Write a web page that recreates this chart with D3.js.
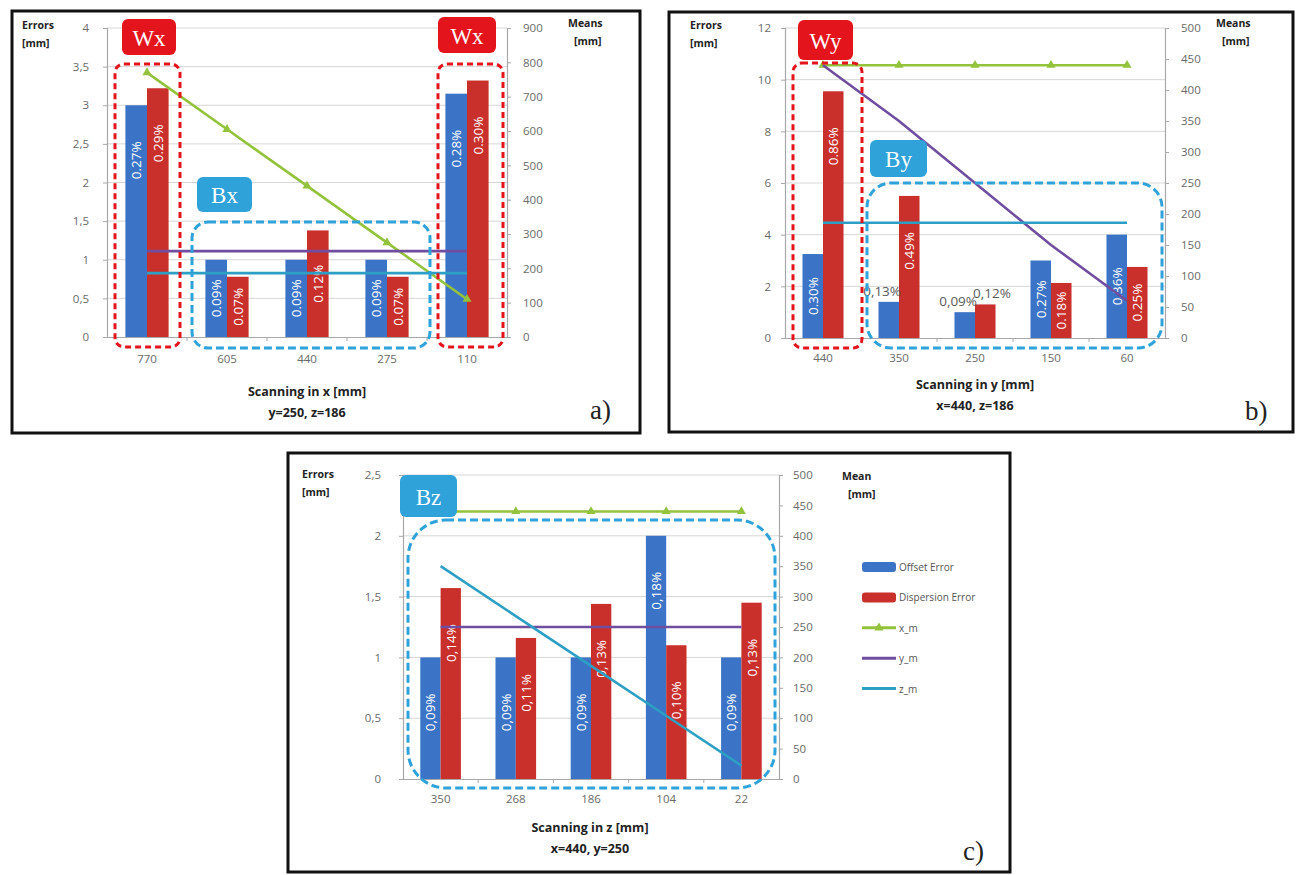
<!DOCTYPE html>
<html><head><meta charset="utf-8">
<script src="https://cdn.jsdelivr.net/npm/d3@7"></script>
<style>
body{margin:0;background:#fff}
svg text{font-family:"Open Sans","Liberation Sans",sans-serif}
</style>
</head><body>
<svg id="chart" width="1299" height="875"></svg>
<script>
// ---------------- DATA ----------------
const seriesNames = ["Offset Error", "Dispersion Error", "x_m", "y_m", "z_m"];

// panel a) scanning in x
const catsA = ["770", "605", "440", "275", "110"];
const offsetA = [3.0, 1.0, 1.0, 1.0, 3.15];
const dispA = [3.22, 0.78, 1.38, 0.78, 3.32];
const offsetLblA = ["0.27%", "0.09%", "0.09%", "0.09%", "0.28%"];
const dispLblA = ["0.29%", "0.07%", "0.12%", "0.07%", "0.30%"];
const xmA = [770, 605, 440, 275, 110];
const ymA = [250, 250, 250, 250, 250];
const zmA = [186, 186, 186, 186, 186];
const errTicksA = [0, 0.5, 1, 1.5, 2, 2.5, 3, 3.5, 4];
const meanTicksA = [0, 100, 200, 300, 400, 500, 600, 700, 800, 900];

// panel b) scanning in y
const catsB = ["440", "350", "250", "150", "60"];
const offsetB = [3.25, 1.4, 1.0, 3.0, 4.0];
const dispB = [9.55, 5.5, 1.3, 2.13, 2.75];
const offsetLblB = ["0.30%", "0,13%", "0,09%", "0.27%", "0.36%"];
const dispLblB = ["0.86%", "0.49%", "0,12%", "0.18%", "0.25%"];
const xmB = [440, 440, 440, 440, 440];
const ymB = [440, 350, 250, 150, 60];
const zmB = [186, 186, 186, 186, 186];
const errTicksB = [0, 2, 4, 6, 8, 10, 12];
const meanTicksB = [0, 50, 100, 150, 200, 250, 300, 350, 400, 450, 500];

// panel c) scanning in z
const catsC = ["350", "268", "186", "104", "22"];
const offsetC = [1.0, 1.0, 1.0, 2.0, 1.0];
const dispC = [1.57, 1.16, 1.44, 1.1, 1.45];
const offsetLblC = ["0,09%", "0,09%", "0,09%", "0,18%", "0,09%"];
const dispLblC = ["0,14%", "0,11%", "0,13%", "0,10%", "0,13%"];
const xmC = [440, 440, 440, 440, 440];
const ymC = [250, 250, 250, 250, 250];
const zmC = [350, 268, 186, 104, 22];
const errTicksC = [0, 0.5, 1, 1.5, 2, 2.5];
const meanTicksC = [0, 50, 100, 150, 200, 250, 300, 350, 400, 450, 500];

// ---------------- STYLE ----------------
const COL = {off: "#3b74c6", disp: "#c9302c", xm: "#93c23d", ym: "#6f4e9f", zm: "#2e9fc4",
             redBox: "#e3141c", cyanBox: "#2fa2da", grid: "#d6d6d6", axis: "#a8a8a8", tick: "#6a6a6a"};

const svg = d3.select("#chart");

function fmtComma(v) { return String(v).replace(".", ","); }

function panel(cfg) {
  const g = svg.append("g");
  // frame
  g.append("rect").attr("x", cfg.frame[0]).attr("y", cfg.frame[1])
    .attr("width", cfg.frame[2]).attr("height", cfg.frame[3])
    .attr("fill", "#fff").attr("stroke", "#111").attr("stroke-width", 3);

  const P = cfg.plot;
  const x = d3.scaleBand().domain(cfg.cats).range([P.l, P.r]);
  const yE = d3.scaleLinear().domain([0, d3.max(cfg.errTicks)]).range([P.b, P.t]);
  const yM = d3.scaleLinear().domain([0, d3.max(cfg.meanTicks)]).range([P.b, P.t]);
  const bw = x.bandwidth() * 0.27;
  const cx = c => x(c) + x.bandwidth() / 2;

  // gridlines
  g.append("g").selectAll("line").data(cfg.errTicks.slice(1)).join("line")
    .attr("x1", P.l).attr("x2", P.r).attr("y1", d => yE(d)).attr("y2", d => yE(d))
    .attr("stroke", COL.grid).attr("stroke-width", 1);

  // left axis
  const la = g.append("g").attr("transform", `translate(${P.l},0)`)
    .call(d3.axisLeft(yE).tickValues(cfg.errTicks).tickSize(4).tickPadding(cfg.leftPad)
      .tickFormat(cfg.errFmt));
  // right axis
  const ra = g.append("g").attr("transform", `translate(${P.r},0)`)
    .call(d3.axisRight(yM).tickValues(cfg.meanTicks).tickSize(4).tickPadding(cfg.rightPad));
  // bottom axis
  const ba = g.append("g").attr("transform", `translate(0,${P.b})`)
    .call(d3.axisBottom(x).tickSize(0).tickPadding(cfg.catPad));
  [la, ra, ba].forEach(a => {
    a.select(".domain").attr("stroke", COL.axis).attr("stroke-width", 1.2);
    a.selectAll(".tick line").attr("stroke", COL.axis);
    a.selectAll("text").attr("fill", COL.tick).attr("font-size", 11.5);
  });
  // category separators
  g.append("g").selectAll("line").data(cfg.cats.slice(1)).join("line")
    .attr("x1", d => x(d)).attr("x2", d => x(d)).attr("y1", P.b).attr("y2", P.b + 4)
    .attr("stroke", COL.axis);

  // bars
  const rows = cfg.cats.map((c, i) => ({c, off: cfg.off[i], disp: cfg.disp[i], offL: cfg.offL[i], dispL: cfg.dispL[i]}));
  const bars = [];
  rows.forEach(r => {
    bars.push({c: r.c, v: r.off, lbl: r.offL, x0: cx(r.c) - bw, col: COL.off, side: "end"});
    bars.push({c: r.c, v: r.disp, lbl: r.dispL, x0: cx(r.c), col: COL.disp, side: "start"});
  });
  g.append("g").selectAll("rect").data(bars).join("rect")
    .attr("x", d => d.x0).attr("width", bw)
    .attr("y", d => yE(d.v)).attr("height", d => P.b - yE(d.v))
    .attr("fill", d => d.col);

  // bar labels
  const lg = g.append("g");
  bars.forEach(d => {
    const top = yE(d.v), h = P.b - top;
    if (h < 45) {
      lg.append("text").text(d.lbl)
        .attr("x", d.side === "end" ? d.x0 + bw + 2 : d.x0 - 2)
        .attr("y", top - 6)
        .attr("text-anchor", d.side)
        .attr("fill", "#5a5a5a").attr("font-size", 13.5);
    } else {
      const c = top + Math.min(h / 2, 55);
      lg.append("text").text(d.lbl)
        .attr("transform", `translate(${d.x0 + bw / 2},${c}) rotate(-90)`)
        .attr("text-anchor", "middle").attr("dominant-baseline", "central")
        .attr("fill", "#fff").attr("font-size", 13.5);
    }
  });

  // lines
  const lineData = [
    {k: "xm", v: cfg.xm, col: COL.xm, marker: true},
    {k: "ym", v: cfg.ym, col: COL.ym, marker: false},
    {k: "zm", v: cfg.zm, col: COL.zm, marker: false}
  ];
  const line = d3.line().x(d => cx(d.c)).y(d => yM(d.v));
  lineData.forEach(L => {
    const pts = cfg.cats.map((c, i) => ({c, v: L.v[i]}));
    g.append("path").datum(pts).attr("d", line).attr("fill", "none")
      .attr("stroke", L.col).attr("stroke-width", 2.6);
    if (L.marker) {
      g.append("g").selectAll("path").data(pts).join("path")
        .attr("d", d3.symbol(d3.symbolTriangle, 36))
        .attr("transform", d => `translate(${cx(d.c)},${yM(d.v)})`)
        .attr("fill", L.col);
    }
  });

  // axis titles
  const t = g.append("g").attr("font-weight", "bold").attr("font-size", 10.5).attr("fill", "#222");
  t.append("text").text("Errors").attr("x", cfg.errTitle[0]).attr("y", cfg.errTitle[1]);
  t.append("text").text("[mm]").attr("x", cfg.errTitle[0]).attr("y", cfg.errTitle[1] + 18);
  t.append("text").text(cfg.meanWord).attr("x", cfg.meanTitle[0]).attr("y", cfg.meanTitle[1]);
  t.append("text").text("[mm]").attr("x", cfg.meanTitle[0] + 6).attr("y", cfg.meanTitle[1] + 18);

  const xt = g.append("g").attr("font-weight", "bold").attr("fill", "#222").attr("text-anchor", "middle");
  xt.append("text").text(cfg.xTitle).attr("x", cfg.xTitlePos[0]).attr("y", cfg.xTitlePos[1]).attr("font-size", 12.5);
  xt.append("text").text(cfg.xSub).attr("x", cfg.xTitlePos[0]).attr("y", cfg.xTitlePos[1] + 21).attr("font-size", 12.5);

  g.append("text").text(cfg.tag).attr("x", cfg.tagPos[0]).attr("y", cfg.tagPos[1])
    .attr("font-family", "Liberation Serif, DejaVu Serif, serif").attr("font-size", 27).attr("fill", "#222")
    .style("font-family", "'Liberation Serif','DejaVu Serif',serif");

  // annotations
  (cfg.dashed || []).forEach(b => {
    g.append("rect").attr("x", b.x).attr("y", b.y).attr("width", b.w).attr("height", b.h)
      .attr("rx", b.r).attr("fill", "none").attr("stroke", b.red ? COL.redBox : COL.cyanBox)
      .attr("stroke-width", 3).attr("stroke-dasharray", b.red ? "6,4" : "8,4");
  });
  (cfg.tags || []).forEach(b => {
    g.append("rect").attr("x", b.x).attr("y", b.y).attr("width", b.w).attr("height", b.h)
      .attr("rx", 6).attr("fill", b.red ? COL.redBox : COL.cyanBox);
    g.append("text").text(b.text).attr("x", b.x + b.w / 2).attr("y", b.y + b.h / 2 + 1)
      .attr("text-anchor", "middle").attr("dominant-baseline", "central")
      .attr("fill", "#fff").attr("font-size", 23)
      .style("font-family", "'Liberation Serif','DejaVu Serif',serif");
  });

  // legend
  if (cfg.legend) {
    const L = cfg.legend;
    const lg2 = g.append("g");
    const cols = [COL.off, COL.disp, COL.xm, COL.ym, COL.zm];
    seriesNames.forEach((n, i) => {
      const yy = L.y + i * L.dy;
      if (i < 2) {
        lg2.append("rect").attr("x", L.x).attr("y", yy - 5).attr("width", 34).attr("height", 10)
          .attr("rx", 3).attr("fill", cols[i]);
      } else {
        lg2.append("line").attr("x1", L.x).attr("x2", L.x + 34).attr("y1", yy).attr("y2", yy)
          .attr("stroke", cols[i]).attr("stroke-width", 3);
        if (i === 2) lg2.append("path").attr("d", d3.symbol(d3.symbolTriangle, 36))
          .attr("transform", `translate(${L.x + 17},${yy})`).attr("fill", cols[i]);
      }
      lg2.append("text").text(n).attr("x", L.x + 37).attr("y", yy).attr("dominant-baseline", "central")
        .attr("font-size", 10).attr("fill", "#555");
    });
  }
}

panel({
  frame: [12, 11, 628, 422], plot: {l: 107, r: 507, t: 28, b: 337},
  cats: catsA, off: offsetA, disp: dispA, offL: offsetLblA, dispL: dispLblA,
  xm: xmA, ym: ymA, zm: zmA, errTicks: errTicksA, meanTicks: meanTicksA,
  errFmt: fmtComma, leftPad: 14, rightPad: 12, catPad: 18,
  errTitle: [22, 29], meanTitle: [568, 27], meanWord: "Means",
  xTitle: "Scanning in x [mm]", xSub: "y=250, z=186", xTitlePos: [307, 396],
  tag: "a)", tagPos: [590, 419],
  dashed: [{x: 115, y: 64, w: 65, h: 283, r: 9, red: true}, {x: 438, y: 64, w: 65, h: 283, r: 9, red: true},
           {x: 192, y: 222, w: 238, h: 126, r: 16}],
  tags: [{text: "Wx", x: 122, y: 19, w: 54, h: 36, red: true}, {text: "Wx", x: 438, y: 17, w: 58, h: 36, red: true},
         {text: "Bx", x: 197, y: 177, w: 55, h: 35}]
});

panel({
  frame: [669, 12, 624, 420], plot: {l: 785, r: 1165, t: 28, b: 338},
  cats: catsB, off: offsetB, disp: dispB, offL: offsetLblB, dispL: dispLblB,
  xm: xmB, ym: ymB, zm: zmB, errTicks: errTicksB, meanTicks: meanTicksB,
  errFmt: d => d, leftPad: 10, rightPad: 12, catPad: 16,
  errTitle: [690, 29], meanTitle: [1216, 27], meanWord: "Means",
  xTitle: "Scanning in y [mm]", xSub: "x=440, z=186", xTitlePos: [975, 389],
  tag: "b)", tagPos: [1245, 420],
  dashed: [{x: 793, y: 63, w: 69, h: 285, r: 9, red: true}, {x: 867, y: 183, w: 295, h: 165, r: 24}],
  tags: [{text: "Wy", x: 798, y: 20, w: 55, h: 40, red: true}, {text: "By", x: 870, y: 140, w: 57, h: 37}]
});

panel({
  frame: [288, 453, 722, 419], plot: {l: 403, r: 779, t: 475, b: 779},
  cats: catsC, off: offsetC, disp: dispC, offL: offsetLblC, dispL: dispLblC,
  xm: xmC, ym: ymC, zm: zmC, errTicks: errTicksC, meanTicks: meanTicksC,
  errFmt: fmtComma, leftPad: 18, rightPad: 10, catPad: 16,
  errTitle: [302, 478], meanTitle: [842, 480], meanWord: "Mean",
  xTitle: "Scanning in z [mm]", xSub: "x=440, y=250", xTitlePos: [590, 832],
  tag: "c)", tagPos: [963, 860],
  dashed: [{x: 408, y: 520, w: 367, h: 268, r: 38}],
  tags: [{text: "Bz", x: 400, y: 475, w: 57, h: 42}],
  legend: {x: 862, y: 567, dy: 30.4}
});
</script>
</body></html>
